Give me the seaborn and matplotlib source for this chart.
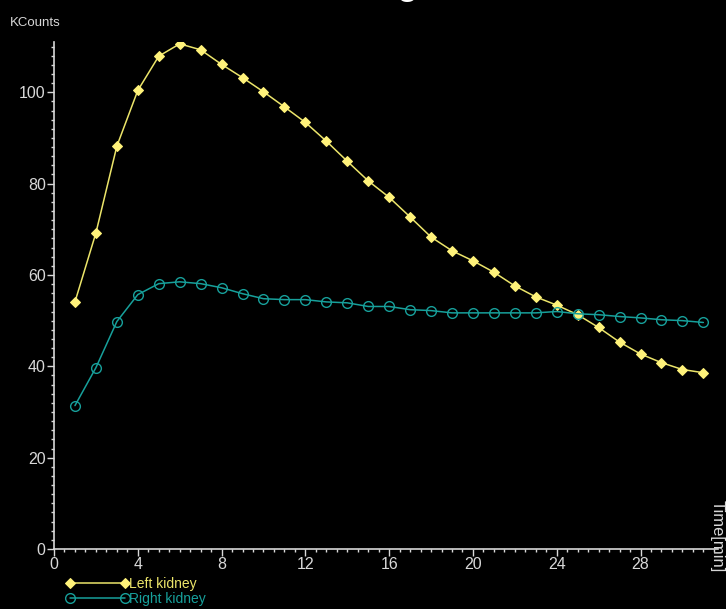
import seaborn as sns
import matplotlib.pyplot as plt
import pandas as pd
from matplotlib.ticker import MultipleLocator

# renogram data
time_min = list(range(1, 32))
left_kidney = [54.1, 69.2, 88.2, 100.4, 107.9, 110.6, 109.3, 106.1, 103.2, 100.1,
               96.8, 93.4, 89.3, 84.9, 80.6, 77.0, 72.7, 68.3, 65.3, 63.1,
               60.6, 57.6, 55.2, 53.4, 51.3, 48.5, 45.3, 42.7, 40.8, 39.3, 38.6]
right_kidney = [31.4, 39.7, 49.8, 55.7, 58.1, 58.5, 58.1, 57.2, 55.9, 54.8,
                54.6, 54.6, 54.1, 53.9, 53.1, 53.1, 52.4, 52.2, 51.7, 51.7,
                51.7, 51.7, 51.7, 52.0, 51.5, 51.3, 50.9, 50.6, 50.2, 50.0, 49.6]

df = pd.DataFrame({'Time': time_min, 'Left': left_kidney, 'Right': right_kidney})

sns.set_style("dark")
plt.rcParams['font.family'] = ['Liberation Sans Narrow', 'Liberation Sans', 'DejaVu Sans']

yellow = '#ece56a'
teal = '#17a09b'
axis_col = '#d8d8d8'

fig = plt.figure(figsize=(7.26, 6.09), dpi=100, facecolor='black')
ax = fig.add_axes([0.0744, 0.0985, 0.9146, 0.8325])
ax.set_facecolor('black')

sns.lineplot(x='Time', y='Left', data=df, ax=ax, color=yellow, linewidth=1.1,
             marker='D', markersize=5.5, markerfacecolor='#fff27a',
             markeredgecolor='#fff27a', label='Left kidney')
sns.lineplot(x='Time', y='Right', data=df, ax=ax, color=teal, linewidth=1.1,
             marker='o', markersize=7, markerfacecolor='none',
             markeredgecolor=teal, markeredgewidth=1.0, label='Right kidney')

ax.set_xlim(0, 31.7)
ax.set_ylim(0, 111)
ax.xaxis.set_major_locator(MultipleLocator(4))
ax.xaxis.set_minor_locator(MultipleLocator(0.5))
ax.yaxis.set_major_locator(MultipleLocator(20))
ax.yaxis.set_minor_locator(MultipleLocator(2))
ax.tick_params(which='both', bottom=True, left=True, direction='out')
ax.tick_params(which='major', colors=axis_col, labelcolor=axis_col, labelsize=11.5,
               length=5, width=1, pad=1)
ax.tick_params(which='minor', colors=axis_col, length=2.5, width=1)
ax.grid(False)
for side in ['top', 'right']:
    ax.spines[side].set_visible(False)
for side in ['left', 'bottom']:
    ax.spines[side].set_color(axis_col)
    ax.spines[side].set_linewidth(1.2)
ax.set_xlabel('')
ax.set_ylabel('')

fig.text(0.014, 0.963, 'KCounts', color=axis_col, fontsize=9.5, ha='left', va='center')
fig.text(0.988, 0.12, 'Time[min]', color=axis_col, fontsize=12,
         rotation=270, ha='center', va='center')
# title is cut off at the top edge in the reference
fig.text(0.548, 1.008, 'Renogram', color='white', fontsize=24, fontweight='bold',
         ha='center', va='baseline')

leg = ax.legend(loc='upper left', bbox_to_anchor=(0.09, 0.052),
                bbox_transform=fig.transFigure, frameon=False, numpoints=2,
                handlelength=4.6, handletextpad=0.0, labelspacing=0.05,
                fontsize=10, labelcolor='linecolor', borderaxespad=0, borderpad=0)

plt.savefig('out.png', dpi=100, facecolor='black')
